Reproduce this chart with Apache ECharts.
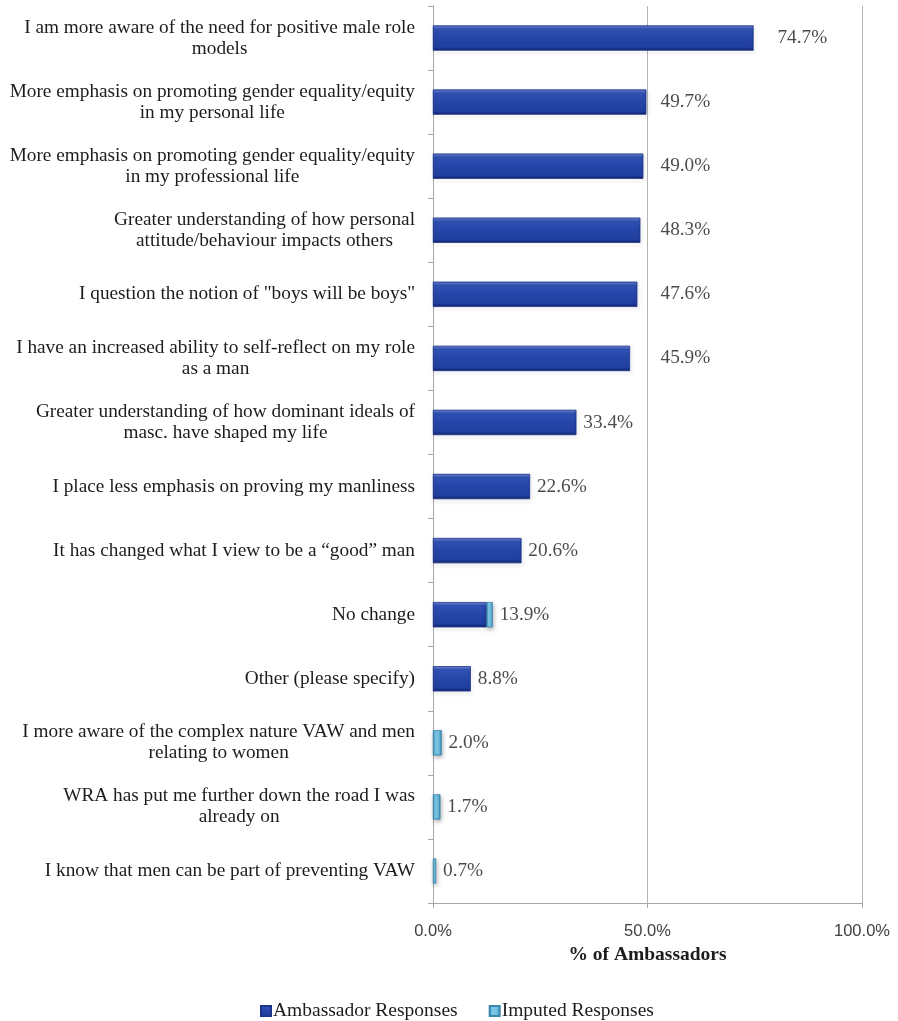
<!DOCTYPE html>
<html>
<head>
<meta charset="utf-8">
<script src="https://cdn.jsdelivr.net/npm/echarts@6/dist/echarts.min.js"></script>
<style>
  html, body { margin: 0; padding: 0; background: #ffffff; }
  #chart { width: 898px; height: 1021px; }
</style>
</head>
<body>
<div id="chart"></div>
<script>
// Survey items (top to bottom)
const categories = [
  'I am more aware of the need for positive male role\nmodels',
  'More emphasis on promoting gender equality/equity\nin my personal life',
  'More emphasis on promoting gender equality/equity\nin my professional life',
  'Greater understanding of how personal\nattitude/behaviour impacts others',
  'I question the notion of "boys will be boys"',
  'I have an increased ability to self-reflect on my role\nas a man',
  'Greater understanding of how dominant ideals of\nmasc. have shaped my life',
  'I place less emphasis on proving my manliness',
  'It has changed what I view to be a \u201cgood\u201d man',
  'No change',
  'Other (please specify)',
  'I more aware of the complex nature VAW and men\nrelating to women',
  'WRA has put me further down the road I was\nalready on',
  'I know that men can be part of preventing VAW'
];

// % of ambassadors
const ambassadorResponses = [74.7, 49.7, 49.0, 48.3, 47.6, 45.9, 33.4, 22.6, 20.6, 12.5, 8.8, 0, 0, 0];
const imputedResponses    = [0, 0, 0, 0, 0, 0, 0, 0, 0, 1.4, 0, 2.0, 1.7, 0.7];

const xTicks = [0, 50, 100];

const totals = ambassadorResponses.map((v, i) => +(v + imputedResponses[i]).toFixed(1));

// empty segments are left out of the stack
const segment = v => (v === 0 ? '-' : v);

const serif = '"Liberation Serif", "Times New Roman", serif';
const sans = '"Liberation Sans", Arial, sans-serif';
const textColor = '#1c1c1c';

const darkFill = new echarts.graphic.LinearGradient(0, 0, 0, 1, [
  { offset: 0, color: '#6f8bd6' },
  { offset: 0.14, color: '#3152b6' },
  { offset: 0.5, color: '#2545a8' },
  { offset: 0.86, color: '#213f9f' },
  { offset: 1, color: '#132570' }
]);
const lightFill = new echarts.graphic.LinearGradient(0, 0, 1, 0, [
  { offset: 0, color: '#3d8fba' },
  { offset: 0.3, color: '#7cc9e8' },
  { offset: 0.7, color: '#6fc0e2' },
  { offset: 1, color: '#3a86ad' }
]);

const chart = echarts.init(document.getElementById('chart'), null, { renderer: 'canvas' });

function categoryLabel(text) {
  return text.split('\n').map(l => '{c|' + l + '}').join('\n');
}

const option = {
  backgroundColor: '#ffffff',
  animation: false,
  grid: { left: 433, right: 36, top: 6, bottom: 118, containLabel: false },
  legend: {
    left: 260,
    top: 1001,
    padding: 0,
    itemWidth: 10,
    itemHeight: 10,
    itemGap: 31,
    icon: 'rect',
    data: ['Ambassador Responses', 'Imputed Responses'],
    textStyle: { fontFamily: serif, fontSize: 19.5, color: textColor, padding: [0, 0, 0, -3] }
  },
  xAxis: {
    type: 'value',
    min: 0,
    max: 100,
    interval: 50,
    name: '% of Ambassadors',
    nameLocation: 'middle',
    nameGap: 41,
    nameTextStyle: { fontFamily: serif, fontSize: 19.5, fontWeight: 'bold', color: textColor },
    axisLine: { show: true, lineStyle: { color: '#a9a9a9', width: 1 } },
    axisTick: { show: true, length: 5, lineStyle: { color: '#a9a9a9' } },
    axisLabel: {
      margin: 20,
      fontFamily: sans,
      fontSize: 16.5,
      color: '#404040',
      formatter: v => xTicks.includes(v) ? v.toFixed(1) + '%' : ''
    },
    splitLine: { show: true, lineStyle: { color: '#b4b4b4', width: 1 } }
  },
  yAxis: {
    type: 'category',
    inverse: true,
    data: categories,
    axisLine: { show: true, lineStyle: { color: '#a9a9a9', width: 1 } },
    axisTick: { show: true, length: 5, lineStyle: { color: '#a9a9a9' } },
    axisLabel: {
      margin: 18,
      align: 'right',
      interval: 0,
      formatter: categoryLabel,
      rich: {
        c: { align: 'center', fontFamily: serif, fontSize: 19.3, lineHeight: 21, color: textColor }
      }
    }
  },
  series: [
    {
      name: 'Ambassador Responses',
      type: 'bar',
      stack: 'total',
      barWidth: 25,
      data: ambassadorResponses.map(segment),
      itemStyle: {
        color: darkFill,
        borderColor: '#1b3388',
        borderWidth: 0.5,
        shadowColor: 'rgba(0,0,0,0.35)',
        shadowBlur: 4,
        shadowOffsetX: 1,
        shadowOffsetY: 2
      }
    },
    {
      name: 'Imputed Responses',
      type: 'bar',
      stack: 'total',
      barWidth: 25,
      data: imputedResponses.map(segment),
      itemStyle: {
        color: lightFill,
        borderColor: '#3a86ad',
        borderWidth: 0.5,
        shadowColor: 'rgba(0,0,0,0.3)',
        shadowBlur: 4,
        shadowOffsetX: 1,
        shadowOffsetY: 2
      }
    },
    {
      // value labels at the end of each stacked bar
      name: 'totals',
      type: 'scatter',
      symbolSize: 0,
      silent: true,
      data: totals.map((t, i) => [t, i]),
      label: {
        show: true,
        position: 'right',
        distance: 7,
        fontFamily: serif,
        fontSize: 19.3,
        color: textColor,
        formatter: p => p.value[0].toFixed(1) + '%'
      }
    }
  ]
};

chart.setOption(option);

// Keep value labels clear of the 50% gridline
const midPx = chart.convertToPixel({ xAxisIndex: 0 }, 50);
const labelPad = 7;
const labelWidthPx = 52;
chart.setOption({
  series: [{}, {}, {
    data: totals.map((t, i) => {
      const endPx = chart.convertToPixel({ xAxisIndex: 0 }, t);
      let d = labelPad;
      if (t > 50) {
        d = 24;
      } else if (endPx + labelPad + labelWidthPx > midPx - 4) {
        d = midPx + 13 - endPx;
      }
      return { value: [t, i], label: { distance: d } };
    })
  }]
});
</script>
</body>
</html>
